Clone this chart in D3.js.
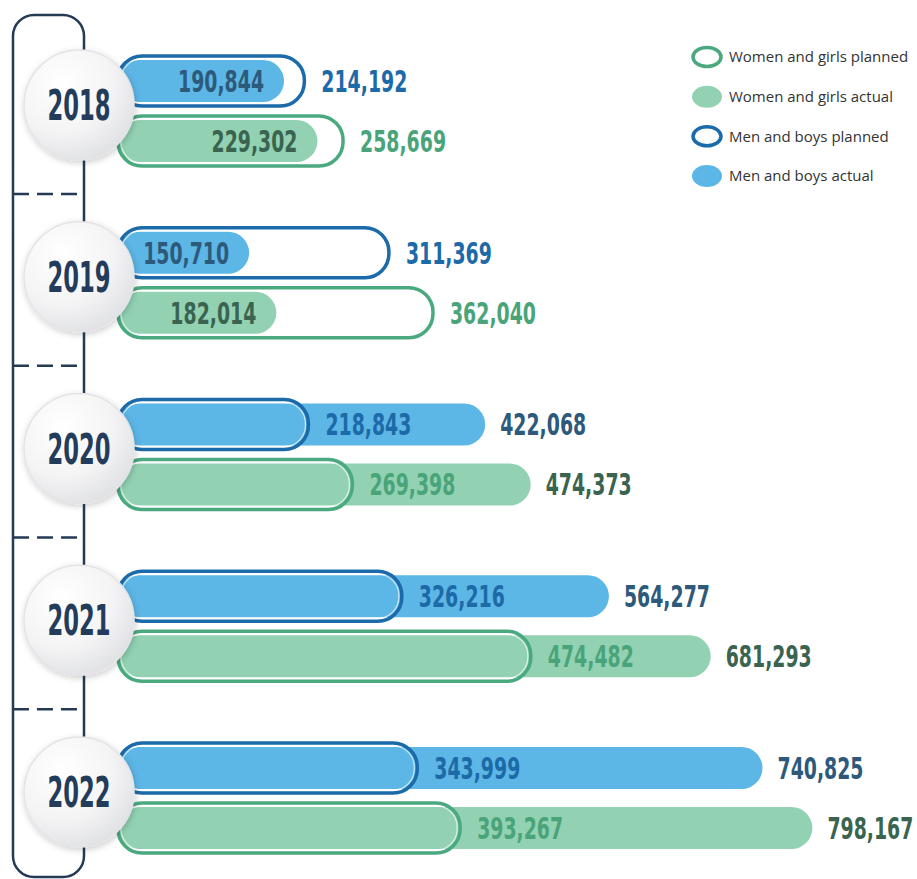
<!DOCTYPE html>
<html>
<head>
<meta charset="utf-8">
<script src="https://cdn.jsdelivr.net/npm/d3@7"></script>
<style>
  html, body { margin: 0; padding: 0; background: #ffffff; }
  svg { display: block; }
  .num { font-family: "DejaVu Sans Condensed", "DejaVu Sans", sans-serif; font-weight: 700; }
  .legend text { font-family: "Open Sans", "Noto Sans", sans-serif; font-size: 15px; fill: #333333; }
</style>
</head>
<body>
<svg id="chart" width="917" height="879"></svg>
<script>
// People reached per year: planned vs actual, split by sex
const years = ["2018", "2019", "2020", "2021", "2022"];
const menPlanned   = [214192, 311369, 218843, 326216, 343999];
const menActual    = [190844, 150710, 422068, 564277, 740825];
const womenPlanned = [258669, 362040, 269398, 474482, 393267];
const womenActual  = [229302, 182014, 474373, 681293, 798167];
const legendLabels = ["Women and girls planned", "Women and girls actual", "Men and boys planned", "Men and boys actual"];

const svg = d3.select("#chart");

const colors = {
  men:   { outline: "#1b6aa9", fill: "#5cb6e6", plannedText: "#1d6aa8", actualText: "#2d5a7b" },
  women: { outline: "#4aa97f", fill: "#92d2b3", plannedText: "#4aa47a", actualText: "#3b6450" }
};

const x = d3.scaleLinear().domain([0, 800000]).range([118, 814]);
const y = d3.scalePoint().domain(years).range([111, 798]);
const sub = d3.scalePoint().domain(["men", "women"]).range([-30, 30]);

const outlineH = 50, fillH = 42;
const fmt = d3.format(",");
const numSquash = 0.7;   // horizontal compression for the condensed numerals
const yearSquash = 0.6;

// soft shadow for the year discs
const defs = svg.append("defs");
const shadow = defs.append("filter").attr("id", "discShadow")
  .attr("x", "-30%").attr("y", "-30%").attr("width", "160%").attr("height", "160%");
shadow.append("feDropShadow").attr("dx", 1).attr("dy", 2).attr("stdDeviation", 3)
  .attr("flood-color", "#000").attr("flood-opacity", 0.2);
const grad = defs.append("radialGradient").attr("id", "discFill")
  .attr("cx", "35%").attr("cy", "30%").attr("r", "75%");
grad.append("stop").attr("offset", "0%").attr("stop-color", "#ffffff");
grad.append("stop").attr("offset", "60%").attr("stop-color", "#f4f4f5");
grad.append("stop").attr("offset", "100%").attr("stop-color", "#e0e1e4");

// timeline frame and separators
const frame = svg.append("g").attr("class", "timeline");
frame.append("rect")
  .attr("x", 13).attr("y", 15).attr("width", 71).attr("height", 862).attr("rx", 21)
  .attr("fill", "none").attr("stroke", "#243a55").attr("stroke-width", 2.5);

const mids = d3.pairs(years).map(([a, b]) => (y(a) + y(b)) / 2 - 3);
frame.selectAll("line.sep").data(mids).join("line")
  .attr("class", "sep")
  .attr("x1", 13).attr("x2", 84).attr("y1", d => d).attr("y2", d => d)
  .attr("stroke", "#243a55").attr("stroke-width", 2.5)
  .attr("stroke-dasharray", "16 8");

// bars
const rows = [];
years.forEach((yr, i) => {
  rows.push({ year: yr, sex: "men", planned: menPlanned[i], actual: menActual[i] });
  rows.push({ year: yr, sex: "women", planned: womenPlanned[i], actual: womenActual[i] });
});
const cy = d => y(d.year) + sub(d.sex);

const bars = svg.append("g").attr("class", "bars");
const g = bars.selectAll("g.row").data(rows).join("g").attr("class", "row");

// actual: filled pill
g.append("rect")
  .attr("x", x(0))
  .attr("y", d => cy(d) - fillH / 2)
  .attr("width", d => x(d.actual) - x(0))
  .attr("height", fillH)
  .attr("rx", fillH / 2)
  .attr("fill", d => colors[d.sex].fill);

// planned: outlined pill with a faint inner highlight
g.append("rect")
  .attr("x", x(0))
  .attr("y", d => cy(d) - outlineH / 2)
  .attr("width", d => x(d.planned) - x(0))
  .attr("height", outlineH)
  .attr("rx", 24)
  .attr("fill", "none")
  .attr("stroke", d => colors[d.sex].outline)
  .attr("stroke-width", 3.5);
g.append("rect")
  .attr("x", x(0) + 3)
  .attr("y", d => cy(d) - outlineH / 2 + 3)
  .attr("width", d => x(d.planned) - x(0) - 6)
  .attr("height", outlineH - 6)
  .attr("rx", 21)
  .attr("fill", "none")
  .attr("stroke", "#ffffff")
  .attr("stroke-opacity", 0.7)
  .attr("stroke-width", 1.2);

// planned value label
g.append("text")
  .attr("class", "num")
  .attr("transform", d => `translate(${x(d.planned) + 17},${cy(d)}) scale(${numSquash},1)`)
  .attr("dy", "0.36em")
  .attr("font-size", 30)
  .attr("fill", d => colors[d.sex].plannedText)
  .text(d => fmt(d.planned));

// actual value label: outside if it beats the plan, inside the fill otherwise
g.append("text")
  .attr("class", "num")
  .attr("transform", d => {
    const tx = d.actual > d.planned ? x(d.actual) + 15 : x(d.actual) - 20;
    return `translate(${tx},${cy(d)}) scale(${numSquash},1)`;
  })
  .attr("text-anchor", d => d.actual > d.planned ? "start" : "end")
  .attr("dy", "0.36em")
  .attr("font-size", 30)
  .attr("fill", d => colors[d.sex].actualText)
  .text(d => fmt(d.actual));

// year discs
const discs = svg.append("g").attr("class", "discs")
  .selectAll("g").data(years).join("g")
  .attr("transform", d => `translate(79,${y(d) - 6})`);
discs.append("circle")
  .attr("r", 55)
  .attr("fill", "url(#discFill)")
  .attr("stroke", "#e4e4e6").attr("stroke-width", 1.5)
  .attr("filter", "url(#discShadow)");
discs.append("text")
  .attr("class", "num")
  .attr("transform", `scale(${yearSquash},1)`)
  .attr("text-anchor", "middle")
  .attr("dy", "0.36em")
  .attr("font-size", 42)
  .attr("fill", "#243c5c")
  .text(d => d);

// legend
const legendKeys = [
  { sex: "women", kind: "planned" },
  { sex: "women", kind: "actual" },
  { sex: "men", kind: "planned" },
  { sex: "men", kind: "actual" }
];
const ly = d3.scalePoint().domain(legendLabels).range([57, 176]);
const lg = svg.append("g").attr("class", "legend")
  .selectAll("g").data(legendLabels).join("g")
  .attr("transform", d => `translate(707,${ly(d)})`);
lg.append("ellipse")
  .attr("rx", (d, i) => legendKeys[i].kind === "planned" ? 14 : 15)
  .attr("ry", (d, i) => legendKeys[i].kind === "planned" ? 9.5 : 11)
  .attr("fill", (d, i) => legendKeys[i].kind === "planned" ? "#ffffff" : colors[legendKeys[i].sex].fill)
  .attr("stroke", (d, i) => legendKeys[i].kind === "planned" ? colors[legendKeys[i].sex].outline : "none")
  .attr("stroke-width", 3.5);
lg.append("text")
  .attr("x", 22)
  .attr("dy", "0.35em")
  .text(d => d);
</script>
</body>
</html>
